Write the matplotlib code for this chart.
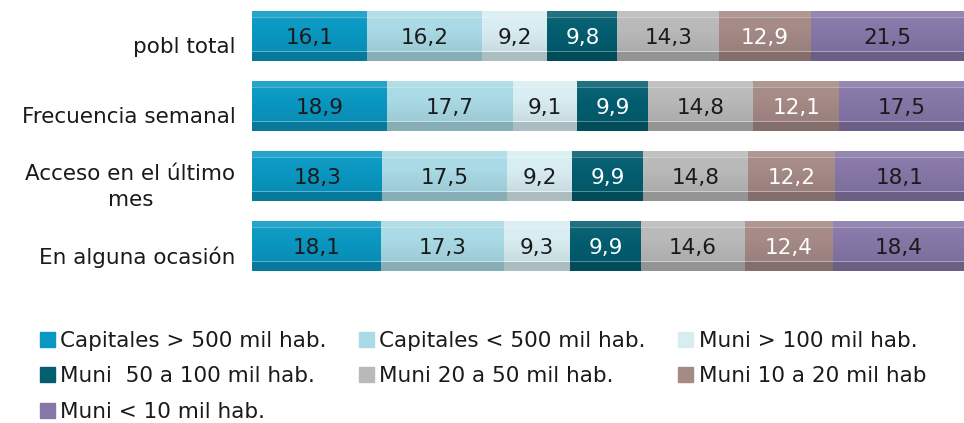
import numpy as np
import matplotlib.pyplot as plt
from matplotlib.patches import Patch
from matplotlib.transforms import ScaledTranslation


CATEGORIES = [
	"pobl total",
	"Frecuencia semanal",
	"Acceso en el último\nmes",
	"En alguna ocasión",
]

SERIES_NAMES = [
	"Capitales > 500 mil hab.",
	"Capitales < 500 mil hab.",
	"Muni > 100 mil hab.",
	"Muni  50 a 100 mil hab.",
	"Muni 20 a 50 mil hab.",
	"Muni 10 a 20 mil hab",
	"Muni < 10 mil hab.",
]

# one list per series, in the order of CATEGORIES
cap_gt_500 = [16.1, 18.9, 18.3, 18.1]
cap_lt_500 = [16.2, 17.7, 17.5, 17.3]
muni_gt_100 = [9.2, 9.1, 9.2, 9.3]
muni_50_100 = [9.8, 9.9, 9.9, 9.9]
muni_20_50 = [14.3, 14.8, 14.8, 14.6]
muni_10_20 = [12.9, 12.1, 12.2, 12.4]
muni_lt_10 = [21.5, 17.5, 18.1, 18.4]

SERIES = [cap_gt_500, cap_lt_500, muni_gt_100, muni_50_100, muni_20_50, muni_10_20, muni_lt_10]

COLORS = ["#0A98C2", "#A9DAE5", "#D8EDF2", "#035E70", "#B9B9B9", "#A58A86", "#8677A8"]
LABEL_COLORS = ["black", "black", "black", "white", "black", "white", "black"]

FS = 15.5
TEXT_COLOR = "#1a1a1a"


def shade(color, n=60):
	# vertical profile faking the 3D bar look: light top edge, dark bottom band
	base = np.array(plt.matplotlib.colors.to_rgb(color))
	t = np.linspace(0, 1, n)
	fac = 1.06 - 0.16 * t
	fac[t < 0.12] = 1.12
	fac[(t >= 0.12) & (t < 0.15)] = 1.3
	fac[(t >= 0.80) & (t < 0.83)] = 1.3
	fac[t >= 0.83] = 0.8
	rows = []
	for f in fac:
		if f >= 1:
			rows.append(base + (1 - base) * (f - 1))
		else:
			rows.append(base * f)
	img = np.clip(np.array(rows), 0, 1)
	return img[:, None, :]


fig = plt.figure(figsize=(9.64, 4.23), dpi=100)
ax = fig.add_axes([252 / 964, 1 - 281 / 423, 1 - 252 / 964, 280 / 423])

y = np.arange(len(CATEGORIES))
left = np.zeros(len(CATEGORIES))
for vals, col, name, tcol in zip(SERIES, COLORS, SERIES_NAMES, LABEL_COLORS):
	bars = ax.barh(y, vals, left=left, height=0.72, color=col, edgecolor="none", label=name)
	for b, v in zip(bars, vals):
		x0, y0 = b.get_x(), b.get_y()
		w, h = b.get_width(), b.get_height()
		im = ax.imshow(shade(col), extent=[x0, x0 + w, y0 + h, y0], aspect="auto",
			interpolation="nearest", zorder=2)
		im.set_clip_path(b)
		ax.text(x0 + w / 2, y0 + h * 0.53, f"{v:.1f}".replace(".", ","),
			ha="center", va="center", fontsize=FS, color=tcol if tcol == "white" else TEXT_COLOR,
			zorder=3)
	left += np.array(vals)

ax.set_xlim(0, 100)
ax.set_ylim(3.5, -0.5)
ax.set_yticks(y)
ax.set_yticklabels(CATEGORIES, fontsize=FS, multialignment="center", linespacing=1.4,
	color=TEXT_COLOR)
ax.tick_params(axis="y", length=0, pad=12)
# labels sit a bit lower than the bars, like the 3D original
for lab in ax.get_yticklabels():
	dy = 6 if "\n" in lab.get_text() else 9
	shift = ScaledTranslation(0, -dy / 100, fig.dpi_scale_trans)
	lab.set_transform(lab.get_transform() + shift)
ax.set_xticks([])
for s in ax.spines.values():
	s.set_visible(False)

handles = [Patch(color=c) for c in COLORS]
order = [0, 3, 6, 1, 4, 2, 5]
leg = fig.legend([handles[i] for i in order], [SERIES_NAMES[i] for i in order],
	ncol=3, loc="upper left", bbox_to_anchor=(31 / 964, 1 - 322 / 423),
	frameon=False, fontsize=FS, handlelength=0.7, handleheight=0.7,
	handletextpad=0.25, columnspacing=1.5, labelspacing=0.73, borderaxespad=0)
for t in leg.get_texts():
	t.set_color(TEXT_COLOR)

fig.savefig("out.png", dpi=100)
